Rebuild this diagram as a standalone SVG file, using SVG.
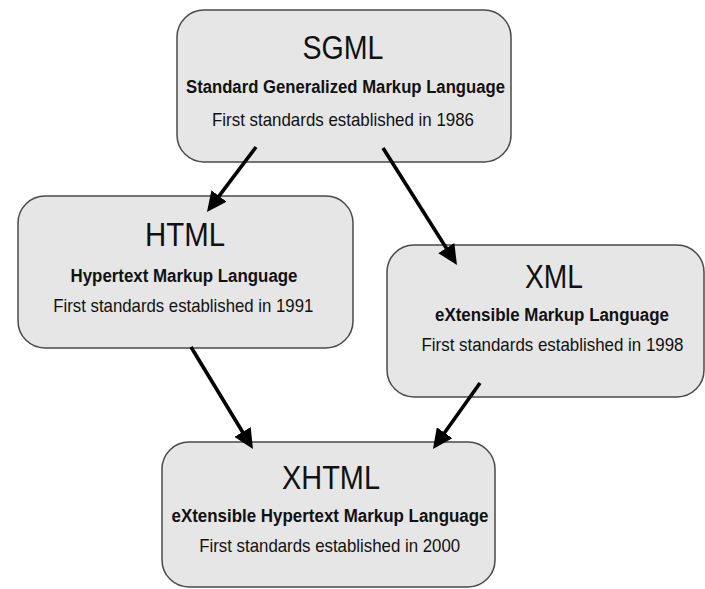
<svg xmlns="http://www.w3.org/2000/svg" width="705" height="589" viewBox="0 0 705 589">
  <style>
    .box { fill: #e6e6e6; stroke: #4a4a4a; stroke-width: 1.5; }
    text { font-family: "Liberation Sans", Arial, Helvetica, sans-serif; fill: #111; text-anchor: middle; }
    .title { font-size: 33px; }
    .sub { font-size: 17.5px; font-weight: bold; }
    .note { font-size: 18.5px; }
    .edge { stroke: #000; stroke-width: 3.6; fill: none; marker-end: url(#head); }
  </style>
  <defs>
    <marker id="head" markerUnits="userSpaceOnUse" markerWidth="20" markerHeight="19" refX="12" refY="9.5" orient="auto" viewBox="0 0 20 19">
      <path d="M0,0 L20,9.5 L0,19 z" fill="#000"/>
    </marker>
  </defs>
  <rect width="705" height="589" fill="#fff"/>

  <g id="sgml">
    <rect class="box" x="177" y="10" width="334" height="152" rx="27" ry="27"/>
    <text class="title" x="343" y="59" textLength="81" lengthAdjust="spacingAndGlyphs">SGML</text>
    <text class="sub" x="345.5" y="93" textLength="319" lengthAdjust="spacingAndGlyphs">Standard Generalized Markup Language</text>
    <text class="note" x="343" y="125.5" textLength="262" lengthAdjust="spacingAndGlyphs">First standards established in 1986</text>
  </g>

  <g id="html">
    <rect class="box" x="18" y="196" width="335" height="152" rx="27" ry="27"/>
    <text class="title" x="185" y="246" textLength="80" lengthAdjust="spacingAndGlyphs">HTML</text>
    <text class="sub" x="184" y="282" textLength="227" lengthAdjust="spacingAndGlyphs">Hypertext Markup Language</text>
    <text class="note" x="183.3" y="312" textLength="260" lengthAdjust="spacingAndGlyphs">First standards established in 1991</text>
  </g>

  <g id="xml">
    <rect class="box" x="387" y="245" width="317" height="152" rx="27" ry="27"/>
    <text class="title" x="554" y="288" textLength="58" lengthAdjust="spacingAndGlyphs">XML</text>
    <text class="sub" x="552" y="321" textLength="234" lengthAdjust="spacingAndGlyphs">eXtensible Markup Language</text>
    <text class="note" x="552.5" y="351" textLength="262" lengthAdjust="spacingAndGlyphs">First standards established in 1998</text>
  </g>

  <g id="xhtml">
    <rect class="box" x="162" y="442" width="333" height="145" rx="27" ry="27"/>
    <text class="title" x="331" y="489" textLength="98" lengthAdjust="spacingAndGlyphs">XHTML</text>
    <text class="sub" x="330" y="522" textLength="317" lengthAdjust="spacingAndGlyphs">eXtensible Hypertext Markup Language</text>
    <text class="note" x="329.7" y="552" textLength="261" lengthAdjust="spacingAndGlyphs">First standards established in 2000</text>
  </g>

  <g id="connectors">
    <line class="edge" x1="256" y1="147" x2="211.8" y2="205.6"/>
    <line class="edge" x1="383" y1="148" x2="452.7" y2="258.2"/>
    <line class="edge" x1="191" y1="347" x2="248.8" y2="442.2"/>
    <line class="edge" x1="480" y1="383" x2="437.6" y2="442.5"/>
  </g>
</svg>
